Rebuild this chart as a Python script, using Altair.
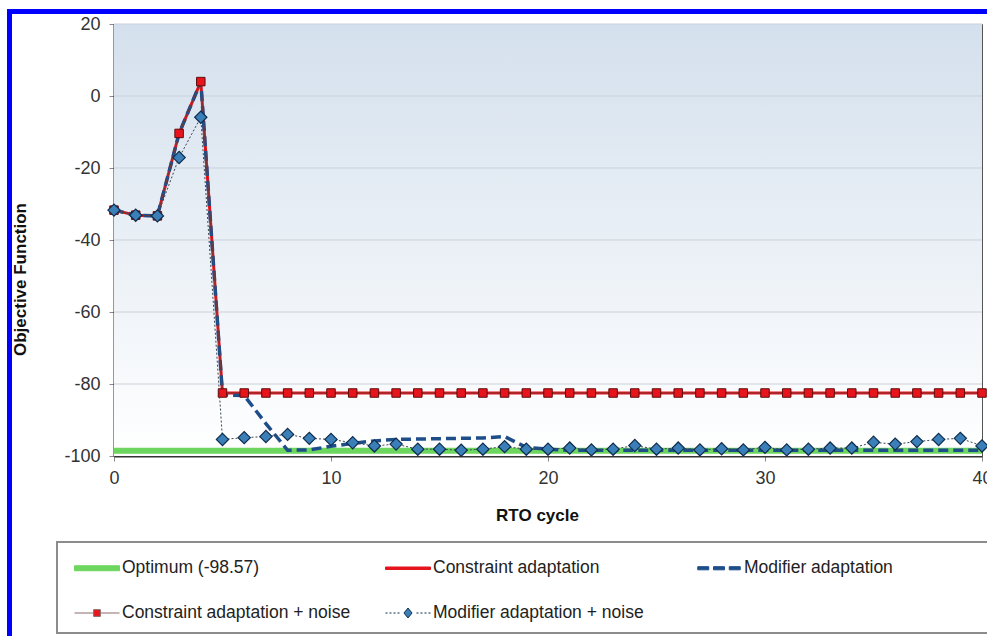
import altair as alt
import pandas as pd

# ---------------- data ----------------
cycles = [0, 1, 2, 3, 4, 5, 6, 7, 8, 9, 10, 11, 12, 13, 14, 15, 16, 17, 18, 19, 20,
          21, 22, 23, 24, 25, 26, 27, 28, 29, 30, 31, 32, 33, 34, 35, 36, 37, 38, 39, 40]

constraint_adaptation = [-31.7, -33.1, -33.3, -10.4, 4.0, -82.5, -82.5, -82.5, -82.5, -82.5,
                         -82.5, -82.5, -82.5, -82.5, -82.5, -82.5, -82.5, -82.5, -82.5, -82.5,
                         -82.5, -82.5, -82.5, -82.5, -82.5, -82.5, -82.5, -82.5, -82.5, -82.5,
                         -82.5, -82.5, -82.5, -82.5, -82.5, -82.5, -82.5, -82.5, -82.5, -82.5,
                         -82.5]

modifier_adaptation = [-31.7, -33.1, -33.3, -10.4, 4.0, -83.0, -83.2, -91.0, -98.4, -98.3,
                       -97.3, -96.5, -95.8, -95.4, -95.3, -95.2, -95.1, -95.0, -94.6, -97.6,
                       -98.1, -98.4, -98.4, -98.4, -98.4, -98.4, -98.4, -98.4, -98.4, -98.4,
                       -98.4, -98.4, -98.4, -98.4, -98.4, -98.4, -98.4, -98.4, -98.4, -98.4,
                       -98.4]

constraint_noise = [-31.7, -33.1, -33.3, -10.4, 4.0, -82.5, -82.5, -82.5, -82.5, -82.5,
                    -82.5, -82.5, -82.5, -82.5, -82.5, -82.5, -82.5, -82.5, -82.5, -82.5,
                    -82.5, -82.5, -82.5, -82.5, -82.5, -82.5, -82.5, -82.5, -82.5, -82.5,
                    -82.5, -82.5, -82.5, -82.5, -82.5, -82.5, -82.5, -82.5, -82.5, -82.5,
                    -82.5]

modifier_noise = [-31.7, -33.1, -33.3, -17.1, -5.9, -95.4, -94.9, -94.6, -94.0, -95.1,
                  -95.4, -96.3, -97.2, -96.7, -98.1, -98.1, -98.4, -98.1, -97.4, -98.1,
                  -98.1, -97.8, -98.3, -98.1, -97.1, -98.1, -97.8, -98.3, -98.0, -98.3,
                  -97.6, -98.3, -98.1, -97.8, -97.8, -96.2, -96.7, -96.0, -95.4, -95.1,
                  -97.2]

optimum_cycles = [0, 40]
optimum_values = [-98.57, -98.57]

series_names = ["Optimum (-98.57)", "Constraint adaptation", "Modifier adaptation",
                "Constraint adaptation + noise", "Modifier adaptation + noise"]

x_ticks = [0, 10, 20, 30, 40]
y_ticks = [20, 0, -20, -40, -60, -80, -100]
grid_values = [20, 0, -20, -40, -60, -80]

# ---------------- styling ----------------
FONT = "Liberation Sans"
W, H = 868, 432

GREEN = "#6cd65e"
RED = "#e5151d"
NAVY = "#1d4e89"
SQ_FILL = "#e8141c"
SQ_EDGE = "#5c0c0c"
DIA_FILL = "#3b7fb8"
DIA_EDGE = "#0f2c4d"

df = pd.DataFrame({
    "cycle": cycles,
    "constraint": constraint_adaptation,
    "modifier": modifier_adaptation,
    "constraint_noise": constraint_noise,
    "modifier_noise": modifier_noise,
})
opt_df = pd.DataFrame({"cycle": optimum_cycles, "constraint": optimum_values})
grid_df = pd.DataFrame({"v": grid_values})
one_row = pd.DataFrame({"a": [0]})

x_scale = alt.Scale(domain=[0, 40], nice=False, zero=False)
y_scale = alt.Scale(domain=[-100, 20], nice=False, zero=False)

x_axis = alt.Axis(values=x_ticks, title="RTO cycle", grid=False, labelFlush=False,
                  domainColor="#333333", domainWidth=2, tickColor="#888888", tickSize=5,
                  labelFont=FONT, labelFontSize=18, labelColor="#333333", labelPadding=8,
                  labelExpr="toString(datum.value)",
                  titleFont=FONT, titleFontSize=17, titleFontWeight="bold", titleColor="#111111",
                  titleX=423, titleY=59, titleBaseline="middle")
y_axis = alt.Axis(values=y_ticks, title="Objective Function", grid=False,
                  domainColor="#333333", domainWidth=2, tickColor="#888888", tickSize=5,
                  labelFont=FONT, labelFontSize=18, labelColor="#333333", labelPadding=9,
                  labelExpr="toString(datum.value)",
                  titleFont=FONT, titleFontSize=17, titleFontWeight="bold", titleColor="#111111",
                  titleX=-94, titleY=255, titleBaseline="middle", titleAlign="center")

X = alt.X("cycle:Q", scale=x_scale, axis=x_axis)


def Y(field):
    return alt.Y(f"{field}:Q", scale=y_scale, axis=y_axis)


# plot-area gradient background
background = alt.Chart(one_row).mark_rect(
    color=alt.Gradient(gradient="linear",
                       stops=[alt.GradientStop(color="#d4e0ed", offset=0),
                              alt.GradientStop(color="#ffffff", offset=1)],
                       x1=0, x2=0, y1=0, y2=1)
).encode(x=alt.value(0), x2=alt.value(W), y=alt.value(0), y2=alt.value(H))

# blue frame around the picture
frame = alt.Chart(one_row).mark_rect(fillOpacity=0, stroke="#0000ff", strokeWidth=5).encode(
    x=alt.value(-104.5), x2=alt.value(W + 40), y=alt.value(-12.5), y2=alt.value(H + 220))

# legend box
legend_box = alt.Chart(one_row).mark_rect(fill="#ffffff", stroke="#8c8c8c", strokeWidth=2).encode(
    x=alt.value(-57), x2=alt.value(W + 40), y=alt.value(518), y2=alt.value(609))

grid = alt.Chart(grid_df).mark_rule(color="#c9d1d9", strokeWidth=1).encode(
    y=alt.Y("v:Q", scale=y_scale, axis=y_axis))

optimum = alt.Chart(opt_df).mark_line(color=GREEN, strokeWidth=6).encode(x=X, y=Y("constraint"))
constraint_line = alt.Chart(df).mark_line(color=RED, strokeWidth=3).encode(x=X, y=Y("constraint"))
modifier_line = alt.Chart(df).mark_line(color=NAVY, strokeWidth=3.5, strokeDash=[10, 5]).encode(
    x=X, y=Y("modifier"))
cn_line = alt.Chart(df).mark_line(color="#7a3535", strokeWidth=1).encode(x=X, y=Y("constraint_noise"))
cn_pts = alt.Chart(df).mark_point(shape="square", size=72, filled=True, fill=SQ_FILL,
                                  stroke=SQ_EDGE, strokeWidth=1, opacity=1).encode(
    x=X, y=Y("constraint_noise"))
mn_line = alt.Chart(df).mark_line(color="#3a4450", strokeWidth=1, strokeDash=[2, 2]).encode(
    x=X, y=Y("modifier_noise"))
mn_pts = alt.Chart(df).mark_point(shape="diamond", size=150, filled=True, fill=DIA_FILL,
                                  stroke=DIA_EDGE, strokeWidth=1.2, opacity=1).encode(
    x=X, y=Y("modifier_noise"))

# ---------------- legend (symbol drawings, unit = 22.5 px) ----------------
dots_left, dots_right = [], []
s = -1.0
while s + 0.089 <= -0.22:
    dots_left.append(f"M{s:.3f},0H{s + 0.089:.3f}")
    dots_right.append(f"M{-s - 0.089:.3f},0H{-s:.3f}")
    s += 0.178
symbol_paths = [
    "M-1,-0.11H1V0.11H-1Z",
    "M-1,-0.055H1V0.055H-1Z",
    "M-0.944,-0.07H-0.456V0.07H-0.944ZM-0.244,-0.07H0.244V0.07H-0.244ZM0.456,-0.07H0.944V0.07H0.456Z",
    "M-1,0H-0.16M0.16,0H1M-0.15,-0.15H0.15V0.15H-0.15Z",
    "".join(dots_left) + "".join(dots_right) + "M0,-0.22L0.18,0L0,0.22L-0.18,0Z",
]
legend_fill = [GREEN, RED, NAVY, SQ_FILL, DIA_FILL]
legend_stroke = [GREEN, RED, NAVY, "#8a6a6a", DIA_EDGE]

legend_df = pd.DataFrame({"series": series_names, "cycle": [0] * 5, "constraint": [-1000] * 5})
leg = alt.Legend(orient="none", legendX=-40, legendY=521, direction="horizontal", columns=3,
                 title=None, labelFont=FONT, labelFontSize=17.5, labelColor="#222222",
                 symbolSize=2025, symbolStrokeWidth=1, symbolOffset=0, labelOffset=2,
                 columnPadding=32, rowPadding=13, padding=0, gridAlign="all", labelLimit=400)
legend_layer = alt.Chart(legend_df).mark_point(clip=True, opacity=1, size=2025, strokeWidth=1).encode(
    x=X, y=Y("constraint"),
    shape=alt.Shape("series:N", scale=alt.Scale(domain=series_names, range=symbol_paths),
                    legend=leg, sort=None),
    fill=alt.Fill("series:N", scale=alt.Scale(domain=series_names, range=legend_fill),
                  legend=leg, sort=None),
    stroke=alt.Stroke("series:N", scale=alt.Scale(domain=series_names, range=legend_stroke),
                      legend=leg, sort=None),
)

chart = alt.layer(
    background, grid, optimum, constraint_line, modifier_line, cn_line, cn_pts,
    mn_line, mn_pts, legend_box, legend_layer, frame
).properties(
    width=W, height=H,
    autosize=alt.AutoSizeParams(type="none"),
    padding={"left": 114, "top": 24, "right": 5, "bottom": 180},
    background="#ffffff",
).configure_view(stroke="#555555", strokeWidth=1)

chart.save("out.html", embed_options={"renderer": "svg", "actions": False})
